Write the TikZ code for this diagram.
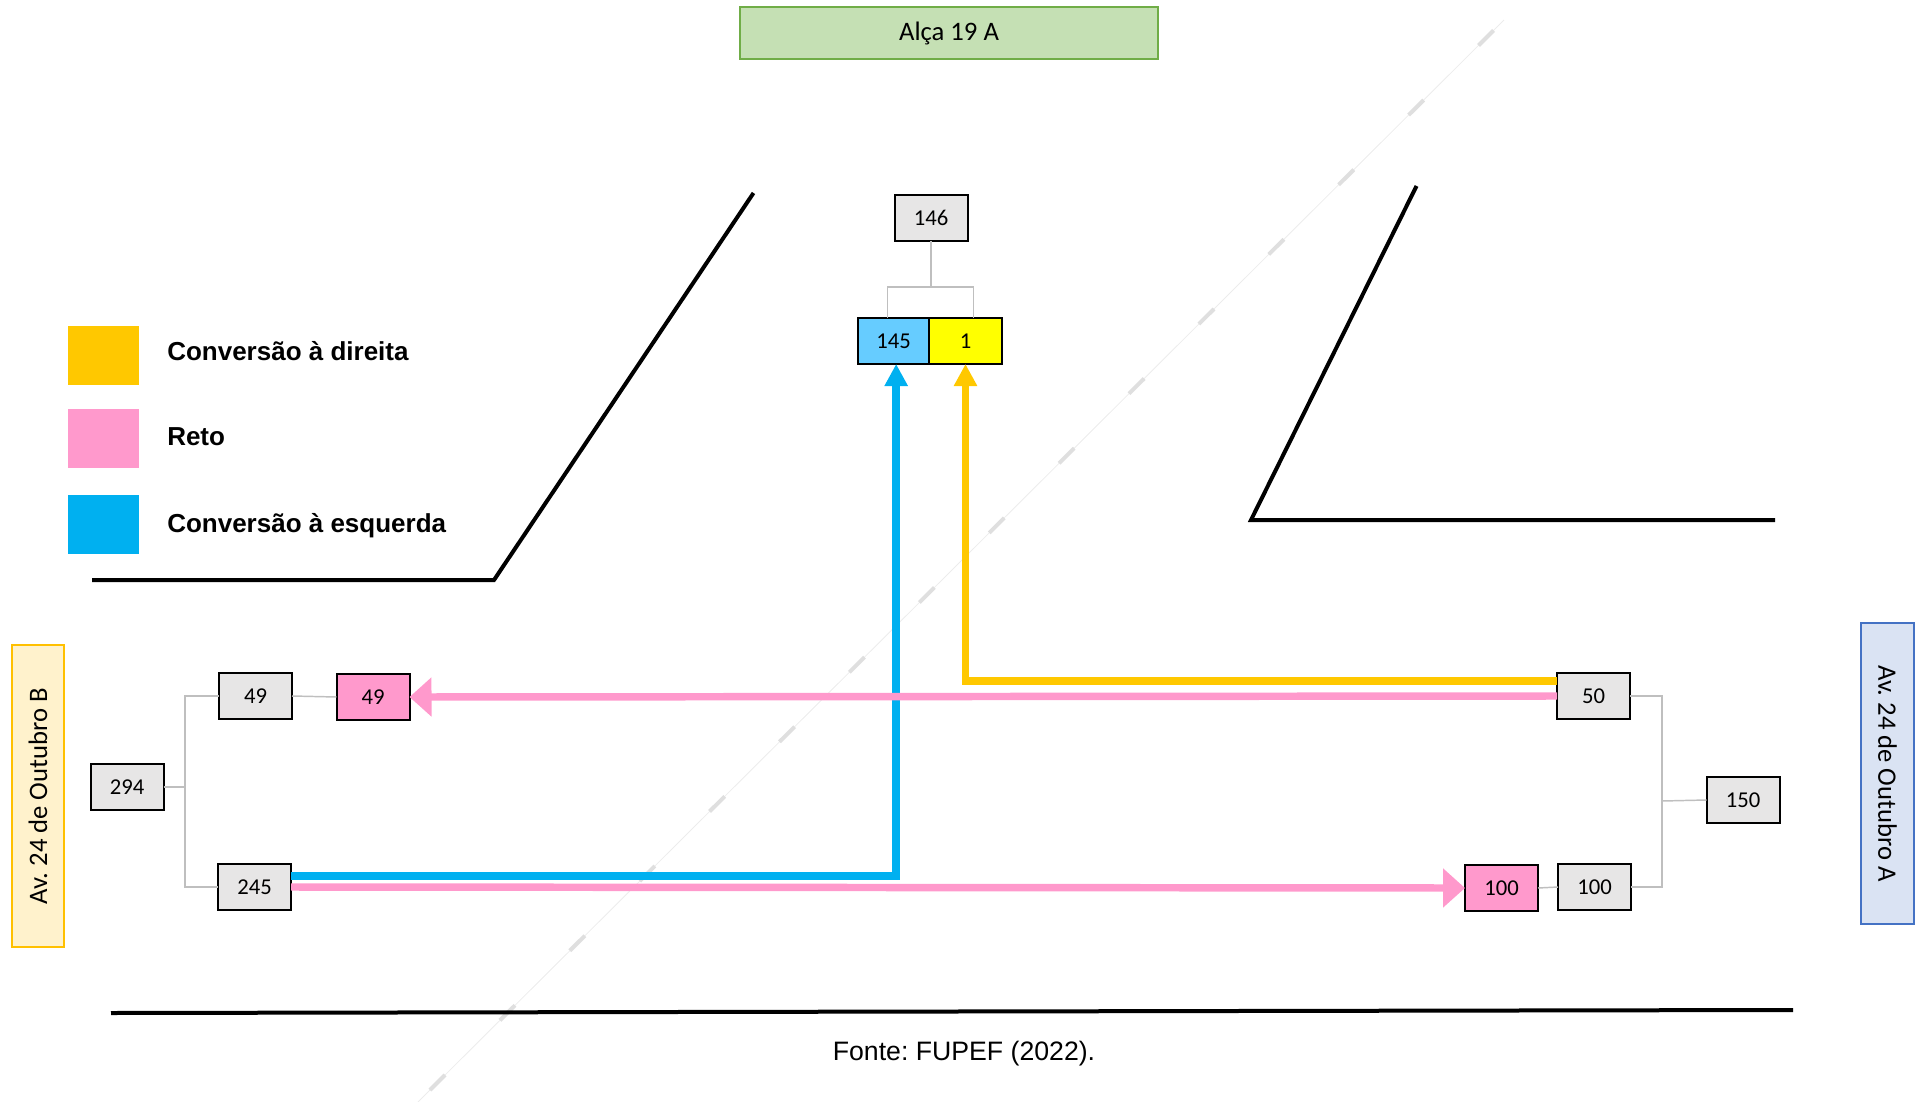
\documentclass[tikz,border=0pt]{standalone}
\usepackage{fontspec}
\setmainfont{Carlito}
\newfontfamily\arialfont{Liberation Sans}
\usepackage{tikz}
\usetikzlibrary{arrows.meta,positioning}
\usepackage{xcolor}
\frenchspacing
\newcommand{\myunit}{0.75pt}
\tikzset{
    boxsty/.style={draw,line width=1.5pt,fill=boxgray,rectangle,minimum width=73*\myunit,minimum height=46*\myunit,inner sep=0pt,outer sep=0pt,font=\fontsize{17}{20}\selectfont},
    pksty/.style={boxsty,fill=pinkc},
    titlesty/.style={draw,line width=1.5pt,rectangle,inner sep=0pt,font=\fontsize{20}{24}\selectfont},
    legsty/.style={rectangle,minimum width=71*\myunit,minimum height=59*\myunit,inner sep=0pt},
    legtxtsty/.style={anchor=base west,inner sep=0pt,font=\arialfont\bfseries\fontsize{19.5}{23}\selectfont},
    linksty/.style={draw=linkgray,line width=1.1pt},
    roadsty/.style={line width=3pt},
    medsty/.style={draw=gray!15,line width=0.6pt},
    meddashsty/.style={draw=gray!25,line width=3pt,dash pattern=on 16pt off 58pt},
    flowsty/.style={line width=5.6pt},
    pkflowsty/.style={flowsty,draw=pinkc,-{Triangle[width=28.5pt,length=16.5pt]}},
    tnflowsty/.style={flowsty,-{Triangle[width=16.5pt,length=16.5pt]}},
}
\definecolor{boxgray}{HTML}{E7E6E6}
\definecolor{pinkc}{HTML}{FF99CC}
\definecolor{lblue}{HTML}{66CCFF}
\definecolor{ylw}{HTML}{FFFF00}
\definecolor{arrblue}{HTML}{00B0F0}
\definecolor{arrorange}{HTML}{FFC800}
\definecolor{linkgray}{HTML}{BFBFBF}
\definecolor{titgreen}{HTML}{C5E0B4}
\definecolor{titgreenb}{HTML}{70AD47}
\definecolor{avbfill}{HTML}{FFF2CC}
\definecolor{avbline}{HTML}{FFC000}
\definecolor{avafill}{HTML}{DAE3F3}
\definecolor{avaline}{HTML}{4472C4}

\begin{document}
\begin{tikzpicture}[x=\myunit,y=-\myunit]
\useasboundingbox (0,0) rectangle (1916,1102);

% median of the loop, faint
\draw[medsty] (418,1102) -- (1504,20);
\draw[meddashsty] (430,1090) -- (1504,20);

% road edges
\draw[roadsty] (92,580) -- (494,580) -- (753.5,193);
\draw[roadsty] (1416.5,186) -- (1251,520) -- (1775,520);
\draw[roadsty] (111,1013) -- (1793,1010);

% approaches
\node[titlesty,fill=titgreen,draw=titgreenb,minimum width=418*\myunit,minimum height=52*\myunit] (alca) at (949,33) {Alça 19 A};
\node[titlesty,fill=avbfill,draw=avbline,rotate=90,minimum width=302*\myunit,minimum height=52*\myunit] (avb) at (38,796) {Av. 24 de Outubro B};
\node[titlesty,fill=avafill,draw=avaline,rotate=-90,minimum width=301*\myunit,minimum height=53*\myunit] (ava) at (1887.5,773.5) {Av. 24 de Outubro A};

% legend
\node[legsty,fill=arrorange] (lg1) at (103.5,355.5) {};
\node[legsty,fill=pinkc] (lg2) at (103.5,438.5) {};
\node[legsty,fill=arrblue] (lg3) at (103.5,524) {};
\node[legtxtsty] (lt1) at (167,360) {Conversão à direita};
\node[legtxtsty] (lt2) at (167,445) {Reto};
\node[legtxtsty] (lt3) at (167,532) {Conversão à esquerda};

% counts
\node[boxsty] (g146) at (931,218) {146};
\node[boxsty,fill=lblue,minimum width=71*\myunit] (b145) at (893.5,341) {145};
\node[boxsty,fill=ylw,right=0pt of b145] (b1) {1};

\node[boxsty] (g294) at (127,787) {294};
\node[boxsty] (g49) at (255.5,696) {49};
\node[pksty] (p49) at (373,697) {49};
\node[boxsty] (g245) at (254.5,887) {245};

\node[boxsty] (g50) at (1593.5,696) {50};
\node[boxsty] (g150) at (1743,800) {150};
\node[boxsty] (g100) at (1594.5,887) {100};
\node[pksty] (p100) at (1501.5,888) {100};

% splits
\coordinate (jtop) at (931,287);
\coordinate (jleft) at (185,787);
\coordinate (jright) at (1662,801);
\draw[linksty] (g146.south) -- (jtop);
\draw[linksty] ([xshift=-4.5pt]b145.north) |- (jtop) -| ([xshift=6pt]b1.north);
\draw[linksty] (g294.east) -- (jleft);
\draw[linksty] (g49.west) -| (jleft) |- (g245.west);
\draw[linksty] (g49.east) -- (p49.west);
\draw[linksty] (g150.west) -- (jright);
\draw[linksty] (g50.east) -| (jright) |- (g100.east);
\draw[linksty] (p100.east) -- (g100.west);

% movements
\draw[tnflowsty,draw=arrblue] ([yshift=8.25pt]g245.east) -| ([xshift=2pt]b145.south);
\draw[tnflowsty,draw=arrorange] ([yshift=11.25pt]g50.west) -| (b1.south);
\draw[pkflowsty] (g50.west) -- (p49.east);
\draw[pkflowsty] (g245.east) -- (p100.west);

\node[font=\arialfont\fontsize{20}{24}\selectfont,anchor=base] (src) at (964,1060) {Fonte: FUPEF (2022).};
\end{tikzpicture}
\end{document}
